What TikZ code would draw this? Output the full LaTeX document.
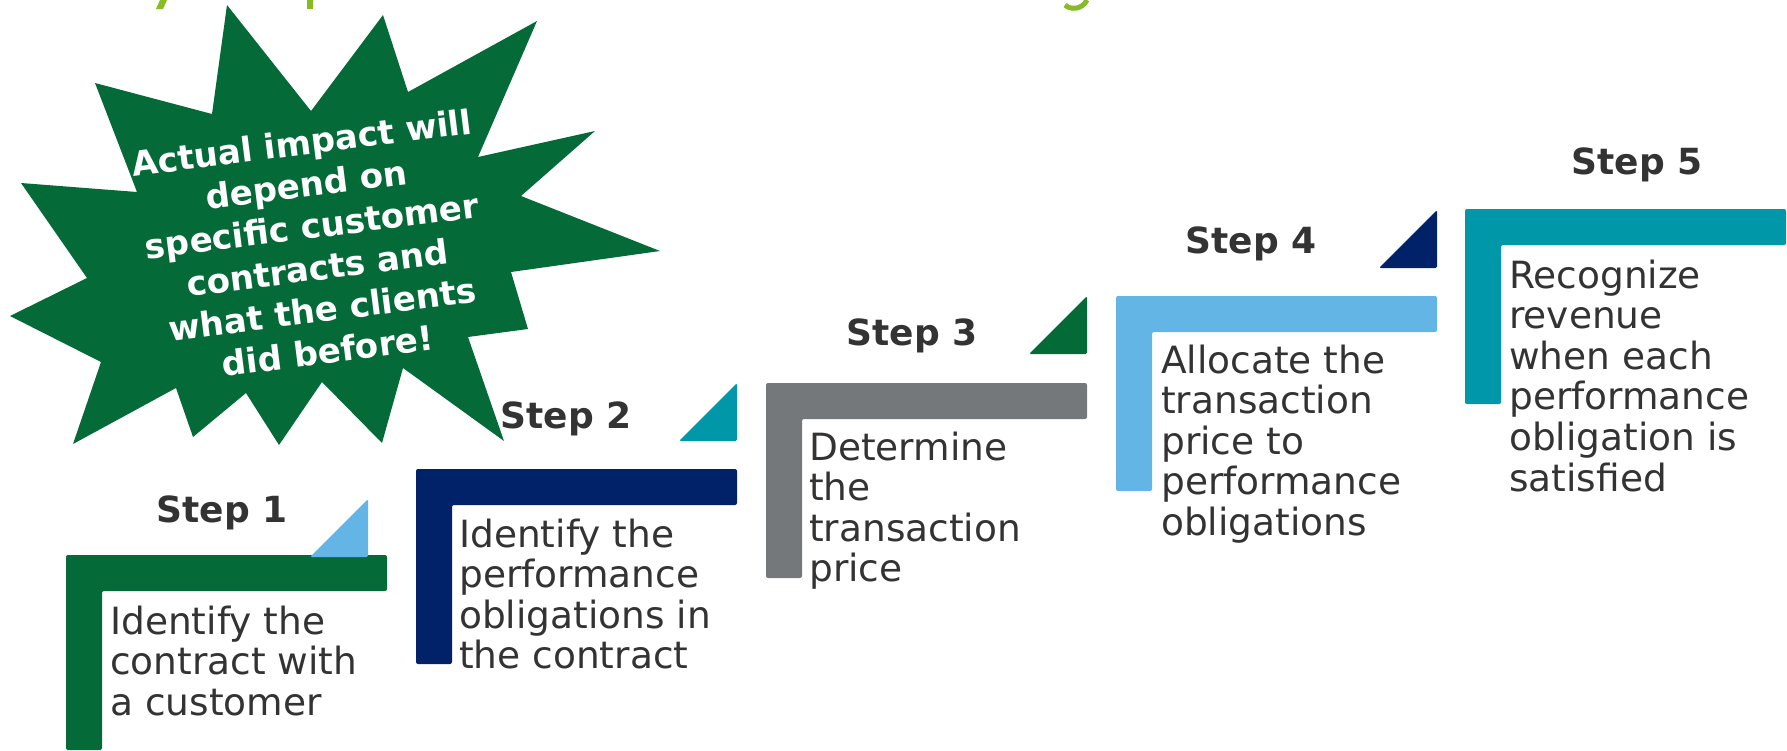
\documentclass[tikz,border=0pt]{standalone}
\usepackage{fontspec}
\setmainfont{DejaVu Sans}
\definecolor{dgreen}{HTML}{046A38}
\definecolor{navy}{HTML}{012169}
\definecolor{slate}{HTML}{75787B}
\definecolor{sky}{HTML}{62B5E5}
\definecolor{teal}{HTML}{0097A9}
\definecolor{lime}{HTML}{86BC25}
\definecolor{ink}{HTML}{333333}

% L-shaped step bracket: #1 = left x, #2 = top y, #3 = colour
\newcommand\stepbracket[3]{%
  \fill[#3, rounded corners=2pt] (#1,#2) -- ++(321,0) -- ++(0,36) -- ++(-285,0)
    -- ++(0,159) -- ++(-36,0) -- cycle;}
% small right triangle: #1 = right x, #2 = bottom y, #3 = colour
\newcommand\steptriangle[3]{%
  \fill[#3, rounded corners=1.5pt] (#1,#2) -- ++(0,-58) -- ++(-58,58) -- cycle;}

\tikzset{
  steptitle/.style={font=\fontsize{36}{40}\selectfont\bfseries, text=ink,
    anchor=base, inner sep=0pt},
  stepbody/.style={font=\fontsize{37.5}{40.5}\selectfont, text=ink,
    anchor=base west, inner sep=0pt},
  bursttext/.style={font=\fontsize{34}{42}\selectfont\bfseries, text=white,
    anchor=base, inner sep=0pt, rotate=7.2},
}

\begin{document}
\begin{tikzpicture}[x=1pt,y=-1pt]
\useasboundingbox (0,0) rectangle (1787,750);

% descenders of the heading line above
\fill[lime] (160,0) -- (167,0) -- (163,9) -- (156,9) -- cycle;
\fill[lime] (307,0) rectangle (313,9);
\draw[lime, line width=5pt] (1065,5) .. controls (1070,10) and (1082,10) .. (1087,0);

% explosion callout
\fill[dgreen] (227,5) -- (311,111) -- (383,15) -- (408,92) -- (537,21) -- (478,157)
  -- (595,131) -- (521,196) -- (660,251) -- (511,272) -- (528,329) -- (468,337)
  -- (504,441) -- (403,368) -- (382,443) -- (322,382) -- (279,445) -- (246,393)
  -- (193,437) -- (176,388) -- (73,444) -- (101,362) -- (10,316) -- (87,278)
  -- (21,183) -- (137,192) -- (95,83) -- (212,114) -- cycle;
\node[bursttext] (burst) at (303,155) {\begin{tabular}[t]{@{}c@{}}Actual impact will\\
  depend on\\specific customer\\contracts and\\what the clients\\did before!\end{tabular}};

% brackets
\stepbracket{66}{555}{dgreen}
\stepbracket{416}{469}{navy}
\stepbracket{766}{383}{slate}
\stepbracket{1116}{296}{sky}
\stepbracket{1465}{209}{teal}

% corner triangles
\steptriangle{368}{557}{sky}
\steptriangle{737}{441}{teal}
\steptriangle{1087}{354}{dgreen}
\steptriangle{1437}{268}{navy}

% step titles
\node[steptitle] (t1) at (222,522) {Step 1};
\node[steptitle] (t2) at (566,428) {Step 2};
\node[steptitle] (t3) at (912,345) {Step 3};
\node[steptitle] (t4) at (1251,253) {Step 4};
\node[steptitle] (t5) at (1637,174) {Step 5};

% step descriptions
\node[stepbody] (b1) at (110,634) {\begin{tabular}[t]{@{}l@{}}Identify the\\contract with\\a customer\end{tabular}};
\node[stepbody] (b2) at (459,547) {\begin{tabular}[t]{@{}l@{}}Identify the\\performance\\obligations in\\the contract\end{tabular}};
\node[stepbody] (b3) at (809,460) {\begin{tabular}[t]{@{}l@{}}Determine\\the\\transaction\\price\end{tabular}};
\node[stepbody] (b4) at (1161,373) {\begin{tabular}[t]{@{}l@{}}Allocate the\\transaction\\price to\\performance\\obligations\end{tabular}};
\node[stepbody] (b5) at (1509,288) {\begin{tabular}[t]{@{}l@{}}Recognize\\revenue\\when each\\performance\\obligation is\\satisfied\end{tabular}};
\end{tikzpicture}
\end{document}
